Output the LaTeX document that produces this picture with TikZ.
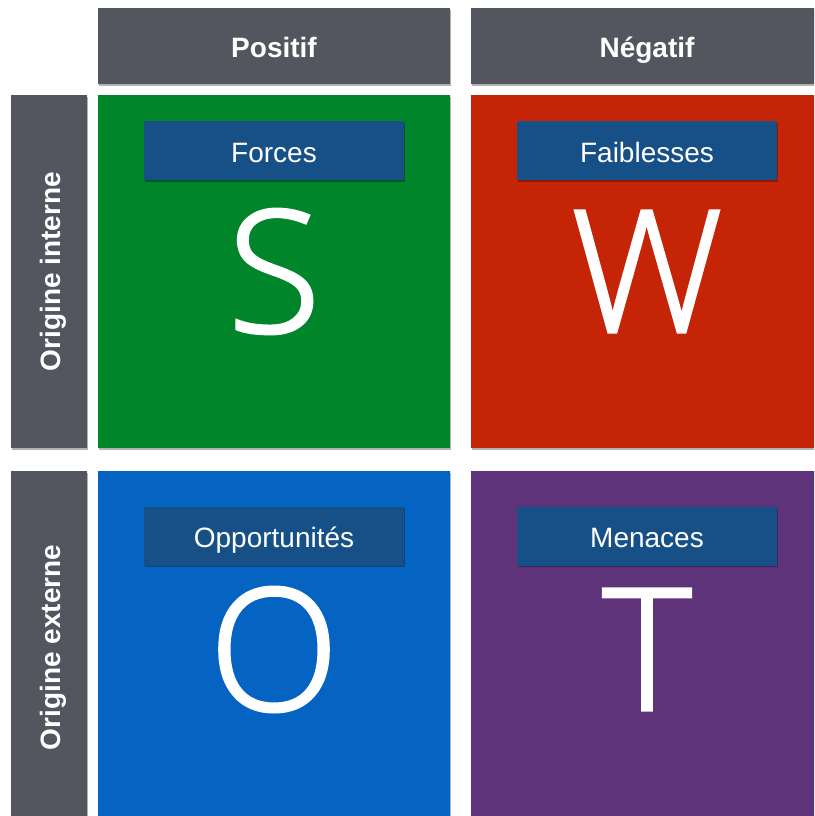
\documentclass[tikz,border=0pt]{standalone}
\usepackage{fontspec}
\setmainfont{Liberation Sans}
\newfontfamily\lightfont{Open Sans Light}[RawFeature={embolden=1.8}]
\usetikzlibrary{shadows}

\definecolor{headgray}{HTML}{53565E}
\definecolor{swotgreen}{HTML}{00852B}
\definecolor{swotred}{HTML}{C52506}
\definecolor{swotblue}{HTML}{0563C1}
\definecolor{swotpurple}{HTML}{5E3379}
\definecolor{labelblue}{HTML}{174F87}

\tikzset{
  boxshadow/.style={drop shadow={shadow xshift=0.8pt,shadow yshift=-1.6pt,opacity=0.3,fill=black}},
  headbox/.style={rectangle,fill=headgray,boxshadow,text=white,inner sep=0pt,
    text height=22pt,text depth=0pt,
    minimum width=352pt,minimum height=76pt,font=\fontsize{28}{32}\selectfont\bfseries},
  sidebox/.style={headbox,rotate=90,minimum width=353pt,minimum height=76pt},
  cell/.style={rectangle,boxshadow,inner sep=0pt,minimum width=352pt,minimum height=353pt},
  labelbox/.style={rectangle,fill=labelblue,boxshadow,text=white,inner sep=0pt,
    text height=23pt,text depth=0pt,
    minimum width=260pt,minimum height=59pt,font=\fontsize{28}{32}\selectfont},
  letter/.style={text=white,inner sep=0pt,font=\lightfont\fontsize{170}{170}\selectfont}
}

\begin{document}
\begin{tikzpicture}[x=1pt,y=-1pt]
\useasboundingbox (0,0) rectangle (814,816);
\clip (0,0) rectangle (814,816);
% column and row headers
\node[headbox] (positif) at (274,46) {Positif};
\node[headbox] (negatif) at (647,46) {Négatif};
\node[sidebox] (interne) at (49,271.5) {Origine interne};
\node[sidebox] (externe) at (49,647.5) {Origine externe};
% quadrants
\node[cell,fill=swotgreen] (forces) at (274,271.5) {};
\node[cell,fill=swotred] (faiblesses) at (647,271.5) {};
\node[cell,fill=swotblue] (opportunites) at (274,647.5) {};
\node[cell,fill=swotpurple] (menaces) at (647,647.5) {};
% quadrant titles
\node[labelbox] (forcestitle) at (274,150.5) {Forces};
\node[labelbox] (faiblessestitle) at (647,150.5) {Faiblesses};
\node[labelbox] (opportunitestitle) at (274,536) {Opportunités};
\node[labelbox] (menacestitle) at (647,536) {Menaces};
% big letters
\node[letter] (S) at (forces.center) {S};
\node[letter] (W) at (faiblesses.center) {W};
\node[letter] (O) at ([yshift=-2pt]opportunites.center) {O};
\node[letter] (T) at ([yshift=-2pt]menaces.center) {T};
\end{tikzpicture}
\end{document}
